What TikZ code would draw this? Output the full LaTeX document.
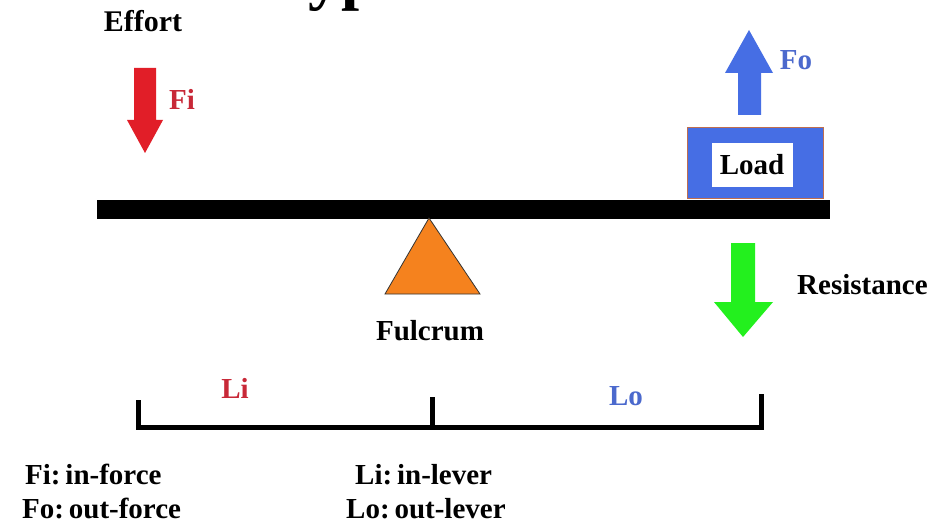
\documentclass[tikz,border=0pt]{standalone}
\usepackage{fontspec}
\setmainfont{Liberation Serif}
\definecolor{effred}{RGB}{225,30,40}
\definecolor{txtred}{RGB}{200,40,55}
\definecolor{loadblue}{RGB}{70,110,228}
\definecolor{txtblue}{RGB}{75,105,205}
\definecolor{resgreen}{RGB}{35,240,30}
\definecolor{fulorange}{RGB}{245,130,30}
\definecolor{boxedge}{RGB}{190,110,80}
\tikzset{
  lbl/.style={inner sep=0pt, font=\bfseries\fontsize{29}{29}\selectfont},
  bar/.style={line width=5pt, line cap=butt},
}
\begin{document}
\begin{tikzpicture}[x=1pt,y=-1pt]
\useasboundingbox (0,0) rectangle (932,524);
\fill[white] (0,0) rectangle (932,524);
\clip (0,0) rectangle (932,524);
% cut-off title
\node[inner sep=0pt, anchor=base west, font=\bfseries\fontsize{65}{65}\selectfont] (title) at (270,-2) {Types of Levers};
% lever
\fill[black] (97,200) rectangle (830,219);
% fulcrum
\draw[fill=fulorange, draw=black!80, line width=0.8pt] (429,218) -- (480,294) -- (385,294) -- cycle;
\node[lbl, anchor=base] (fulcrum) at (430,340) {Fulcrum};
% effort
\node[lbl, anchor=base, font=\bfseries\fontsize{30}{30}\selectfont] (effort) at (143,32) {Effort};
\fill[effred] (134,68) -- (156,68) -- (156,120) -- (163,120) -- (145,153) -- (127,120) -- (134,120) -- cycle;
\node[lbl, anchor=base, text=txtred] (fi) at (182,110) {Fi};
% load
\draw[fill=loadblue, draw=boxedge, line width=0.8pt] (687,127) rectangle (823,198);
\fill[white] (712,143) rectangle (793,187);
\node[lbl, anchor=base] (load) at (752,175) {Load};
\fill[loadblue] (738,115) -- (761,115) -- (761,73) -- (773,73) -- (749,30) -- (725,73) -- (738,73) -- cycle;
\node[lbl, anchor=base, text=txtblue] (fo) at (796,70) {Fo};
% resistance
\fill[resgreen] (731,243) -- (755,243) -- (755,302) -- (773,302) -- (743,337) -- (714,302) -- (731,302) -- cycle;
\node[lbl, anchor=base west] (res) at (797,294) {Resistance};
% lengths
\coordinate (bl) at (136,427);
\coordinate (br) at (764,427);
\draw[bar] (bl) -- (br);
\draw[bar] (138,429.5) -- (138,400);
\draw[bar] (432,429.5) -- (432,397);
\draw[bar] (761,429.5) -- (761,394);
\node[lbl, anchor=base, text=txtred] (li) at (235,398) {Li};
\node[lbl, anchor=base, text=txtblue] (lo) at (626,405) {Lo};
% legend
\node[lbl, anchor=base west] (l1) at (25,484) {Fi:\,in-force};
\node[lbl, anchor=base west] (l2) at (22,518) {Fo:\,out-force};
\node[lbl, anchor=base west] (l3) at (355,484) {Li:\,in-lever};
\node[lbl, anchor=base west] (l4) at (346,518) {Lo:\,out-lever};
\end{tikzpicture}
\end{document}
